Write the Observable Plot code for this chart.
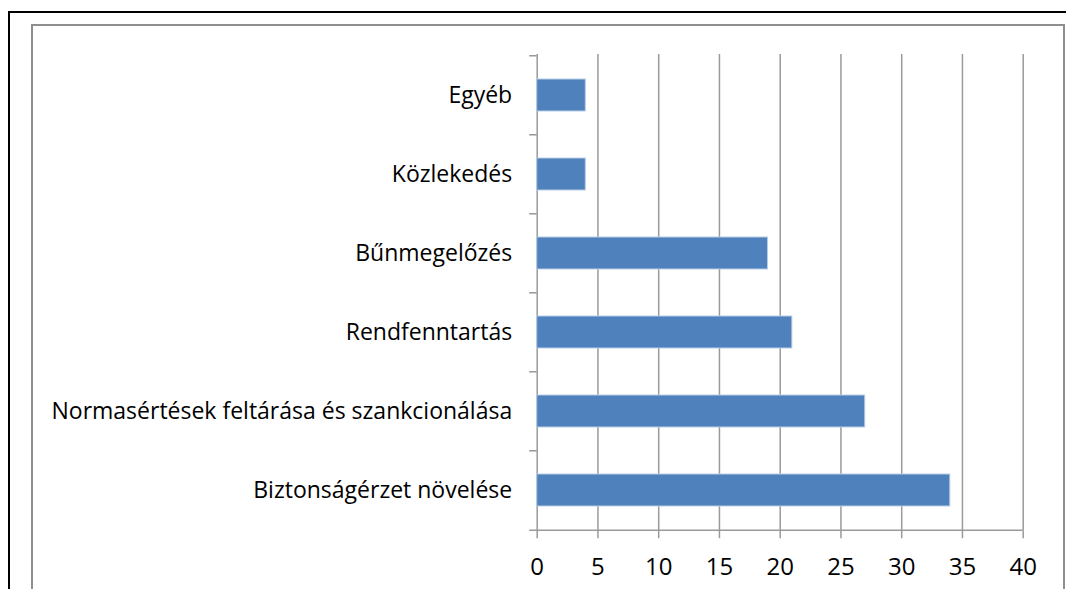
<!DOCTYPE html>
<html><head><meta charset="utf-8">
<script src="https://cdn.jsdelivr.net/npm/d3@7"></script>
<script src="https://cdn.jsdelivr.net/npm/@observablehq/plot@0.6"></script>
<style>
html,body{margin:0;padding:0;background:#fff;}
#wrap{position:relative;width:1066px;height:589px;overflow:hidden;background:#fff;}
#chart{position:absolute;left:0;top:0;}
#outer{position:absolute;left:8px;top:11px;width:3000px;height:3000px;border:2px solid #000;}
#inner{position:absolute;left:31px;top:24px;width:1030px;height:3000px;border:2px solid #8e8e8e;}
</style></head><body>
<div id="wrap"><div id="chart"></div><div id="outer"></div><div id="inner"></div></div>
<script>
const categories = ["Egyéb", "Közlekedés", "Bűnmegelőzés", "Rendfenntartás", "Normasértések feltárása és szankcionálása", "Biztonságérzet növelése"];
const values = [4, 4, 19, 21, 27, 34];
const xTicks = [0, 5, 10, 15, 20, 25, 30, 35, 40];

const data = categories.map((c, i) => ({category: c, value: values[i]}));

const W = 1066, H = 589;
const mt = 54, mb = 58.3, ml = 536.7, mr = 43.3;
const step = (H - mt - mb) / categories.length;
const tickPx = 7.5;
const tl = tickPx * (xTicks[xTicks.length - 1] - xTicks[0]) / (W - ml - mr);
const grid = "#9a9a9a";
const padIn = 0.59;

const chart = Plot.plot({
  width: W,
  height: H,
  marginTop: mt,
  marginBottom: mb,
  marginLeft: ml,
  marginRight: mr,
  style: {background: "transparent", color: "black", fontFamily: "'Open Sans', sans-serif"},
  x: {domain: [0, 40]},
  y: {domain: categories, paddingInner: padIn, paddingOuter: padIn / 2},
  marks: [
    Plot.ruleX(xTicks.filter(d => d > 0), {stroke: grid, strokeWidth: 1.5}),
    Plot.ruleX([0], {stroke: grid, strokeWidth: 1.5}),
    Plot.ruleY(categories, {y: d => d, x1: () => -tl, x2: () => 0, dy: -step / 2, stroke: grid, strokeWidth: 1.5}),
    Plot.ruleY([categories[categories.length - 1]], {y: d => d, x1: () => -tl, x2: () => 40, dy: step / 2, stroke: grid, strokeWidth: 1.5}),
    Plot.barX(data, {x: "value", y: "category", fill: "#4f81bd", stroke: "#b9cde5", strokeWidth: 1}),
    Plot.axisY({tickSize: 0, tickPadding: 25, fontSize: 23, fill: "black", label: null}),
    Plot.axisX({ticks: xTicks, tickSize: tickPx, tickPadding: 19, stroke: grid, strokeWidth: 1.5, fontSize: 24, fill: "black", label: null})
  ]
});
document.getElementById("chart").appendChild(chart);
</script>
</body></html>
